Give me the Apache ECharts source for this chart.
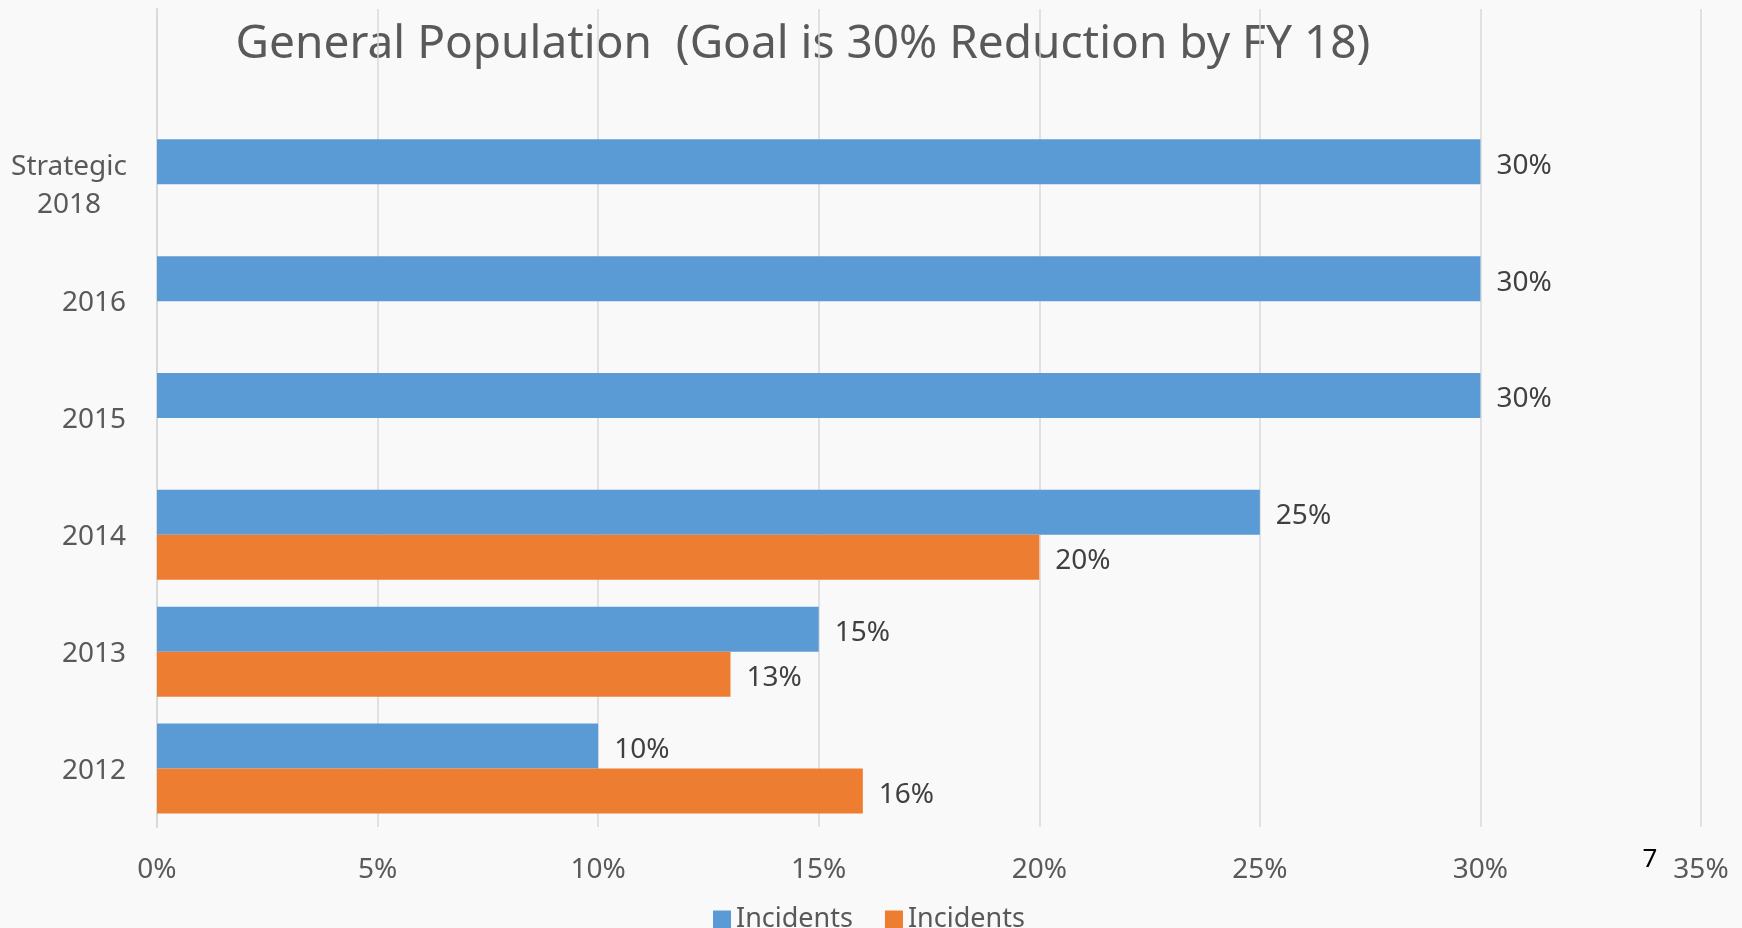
<!DOCTYPE html>
<html>
<head>
<meta charset="utf-8">
<style>
  html, body { margin: 0; padding: 0; background: #f9f9f9; }
  #chart { width: 1742px; height: 928px; }
</style>
<script src="https://cdn.jsdelivr.net/npm/echarts@6/dist/echarts.min.js"></script>
</head>
<body>
<div id="chart"></div>
<script>
// Data
const titleText = 'General Population  (Goal is 30% Reduction by FY 18)';
const categories = ['2012', '2013', '2014', '2015', '2016', 'Strategic\n2018', ''];
const blueValues = [10, 15, 25, 30, 30, 30, null];
const orangeValues = [16, 13, 20, null, null, null, null];
const seriesNames = ['Incidents', 'Incidents'];
const slideNumber = '7';

const FONT = '"Noto Sans", "Open Sans", sans-serif';
const chart = echarts.init(document.getElementById('chart'), null, { renderer: 'canvas' });

const labelStyle = {
  show: true,
  position: 'right',
  distance: 16,
  offset: [0, 4],
  formatter: '{c}%',
  fontFamily: FONT,
  fontSize: 28,
  color: '#404040'
};

const option = {
  backgroundColor: '#f9f9f9',
  animation: false,
  grid: { left: 157, right: 41, top: 9, bottom: 101, containLabel: false },
  legend: {
    left: 708,
    top: 901,
    itemWidth: 18,
    itemHeight: 18,
    itemGap: 32,
    icon: 'rect',
    data: ['s0', 's1'],
    formatter: function (n) { return n === 's0' ? seriesNames[0] : seriesNames[1]; },
    textStyle: { fontFamily: FONT, fontSize: 27, color: '#595959' }
  },
  xAxis: {
    type: 'value',
    min: 0,
    max: 35,
    interval: 5,
    axisLine: { show: false },
    axisTick: { show: false },
    splitLine: { show: true, lineStyle: { color: '#d9d9d9', width: 1.5 } },
    axisLabel: {
      formatter: '{value}%',
      margin: 29,
      fontFamily: FONT,
      fontSize: 28,
      color: '#595959'
    }
  },
  yAxis: {
    type: 'category',
    data: categories,
    axisLine: { show: true, lineStyle: { color: '#d9d9d9', width: 2 } },
    axisTick: { show: false },
    axisLabel: {
      margin: 31,
      fontFamily: FONT,
      fontSize: 28,
      color: '#595959',
      lineHeight: 38,
      padding: [4, 0, 0, 0],
      formatter: function (v) {
        if (v.indexOf('\n') >= 0) return '{c|' + v + '}';
        return v;
      },
      rich: {
        c: { fontFamily: FONT, fontSize: 28, color: '#595959', width: 114, align: 'center', lineHeight: 38 }
      }
    }
  },
  series: [
    {
      name: 's0',
      type: 'bar',
      data: blueValues,
      barWidth: 45,
      barGap: '0%',
      itemStyle: { color: '#5b9bd5' },
      label: labelStyle
    },
    {
      name: 's1',
      type: 'bar',
      data: orangeValues,
      barWidth: 45,
      barGap: '0%',
      itemStyle: { color: '#ed7d31' },
      label: labelStyle
    }
  ],
  graphic: [
    {
      type: 'text',
      style: {
        text: titleText,
        x: 803,
        y: 45,
        textAlign: 'center',
        textVerticalAlign: 'middle',
        fontFamily: FONT,
        fontSize: 46,
        fill: '#595959'
      }
    },
    {
      type: 'text',
      style: {
        text: slideNumber,
        x: 1650,
        y: 860,
        textAlign: 'center',
        textVerticalAlign: 'middle',
        fontFamily: FONT,
        fontSize: 26,
        fill: '#000000'
      }
    }
  ]
};
chart.setOption(option);
</script>
</body>
</html>
